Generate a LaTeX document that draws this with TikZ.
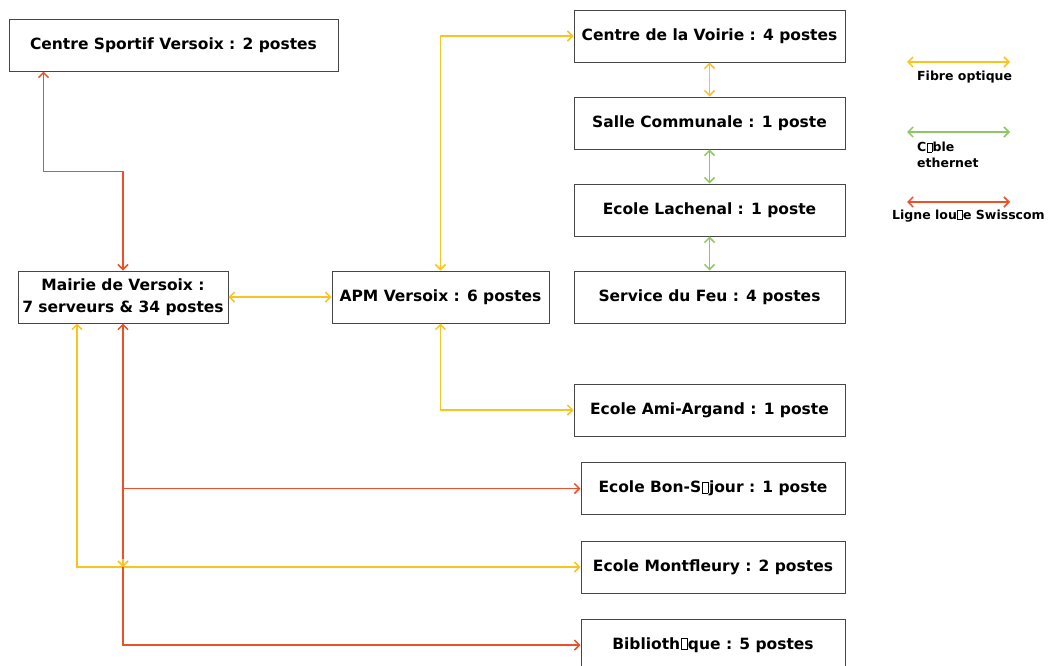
\documentclass[tikz,border=0pt]{standalone}
\usepackage{fontspec}
\setmainfont{DejaVu Sans}
\usetikzlibrary{arrows.meta,calc}
\definecolor{fibre}{RGB}{252,194,30}
\definecolor{eth}{RGB}{140,200,100}
\definecolor{ligne}{RGB}{238,78,40}
\definecolor{bord}{RGB}{70,70,70}
\newcommand{\nd}{{\setlength\fboxsep{0pt}\setlength\fboxrule{0.5pt}\kern0.04em\framebox[0.42em][c]{\rule{0pt}{0.68em}}\kern0.04em}}
\tikzset{
  site/.style={draw=bord, line width=1pt, fill=white, minimum height=52pt, inner sep=1pt, font=\bfseries\fontsize{15.5}{22}\selectfont, align=center},
  conn/.style={line width=1.5pt, {Straight Barb[length=5pt,width=10pt]}-{Straight Barb[length=5pt,width=10pt]}},
  oneway/.style={line width=1.5pt, -{Straight Barb[length=5pt,width=10pt]}},
  fib/.style={draw=fibre},
  ethc/.style={draw=eth},
  lig/.style={draw=ligne},
  legtext/.style={font=\bfseries\fontsize{12.5}{16}\selectfont, anchor=west, align=left, inner sep=0pt}
}
\begin{document}
\begin{tikzpicture}[x=1pt,y=-1pt]
\useasboundingbox (0,0) rectangle (1052,665);
\fill[white] (0,0) rectangle (1052,665);
% nodes
\node[site, minimum width=329pt] (cs) at (173.5,45) {Centre Sportif Versoix : 2 postes};
\node[site, minimum width=210pt] (mairie) at (123,297) {Mairie de Versoix :\\7 serveurs \& 34 postes};
\node[site, minimum width=217pt] (apm) at (440.5,297) {APM Versoix : 6 postes};
\node[site, minimum width=271pt] (voirie) at (709.5,36) {Centre de la Voirie : 4 postes};
\node[site, minimum width=271pt] (salle) at (709.5,123) {Salle Communale : 1 poste};
\node[site, minimum width=271pt] (lach) at (709.5,210) {Ecole Lachenal : 1 poste};
\node[site, minimum width=271pt] (feu) at (709.5,297) {Service du Feu : 4 postes};
\node[site, minimum width=271pt] (ami) at (709.5,410) {Ecole Ami-Argand : 1 poste};
\node[site, minimum width=264pt] (bon) at (713,488.5) {Ecole Bon-S\nd jour : 1 poste};
\node[site, minimum width=264pt] (mont) at (713,567) {Ecole Montfleury : 2 postes};
\node[site, minimum width=264pt] (bib) at (713,645) {Biblioth\nd que : 5 postes};
% connectors
\draw[conn,lig] ([xshift=35pt]cs.south west) -- ++(0,100) -| (mairie.north);
\draw[conn,fib] (mairie.east) -- (apm.west);
\draw[conn,fib] (apm.north) |- (voirie.west);
\draw[conn,fib] (voirie.south) -- (salle.north);
\draw[conn,ethc] (salle.south) -- (lach.north);
\draw[conn,ethc] (lach.south) -- (feu.north);
\draw[conn,fib] (apm.south) |- (ami.west);
\draw[conn,fib] ([xshift=-46pt]mairie.south) |- (mont.west);
\draw[conn,lig] (mairie.south) |- (bib.west);
\draw[oneway,lig] (mairie.south |- bon.west) -- (bon.west);
\coordinate (jm) at (mairie.south |- mont.west);
\draw[oneway,fib] ([yshift=8pt]jm) -- (jm);
% legend
\coordinate (l1a) at (907,62); \coordinate (l1b) at (1010,62);
\coordinate (l2a) at (907,132); \coordinate (l2b) at (1010,132);
\coordinate (l3a) at (907,202); \coordinate (l3b) at (1010,202);
\draw[conn,fib] (l1a) -- (l1b);
\draw[conn,ethc] (l2a) -- (l2b);
\draw[conn,lig] (l3a) -- (l3b);
\node[legtext] (t1) at (917,77) {Fibre optique};
\node[legtext] (t2) at (917,155) {C\nd ble\\ethernet};
\node[legtext] (t3) at (892,216) {Ligne lou\nd e Swisscom};
\end{tikzpicture}
\end{document}
